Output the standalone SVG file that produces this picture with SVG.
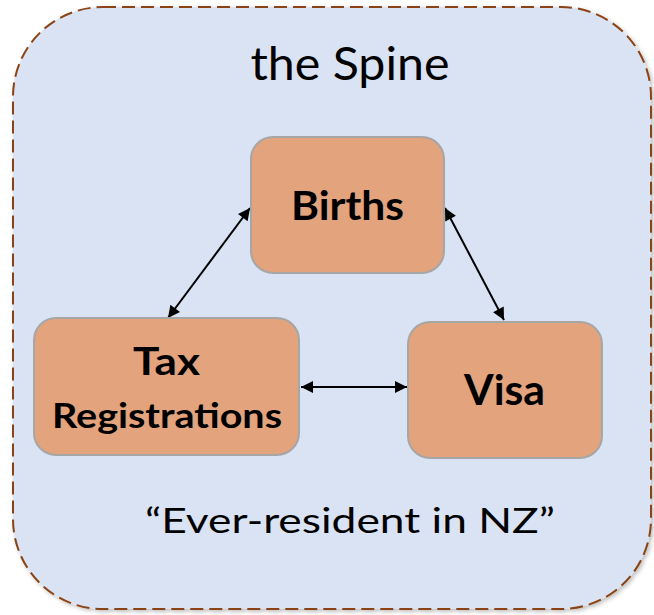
<svg xmlns="http://www.w3.org/2000/svg" width="654" height="615" viewBox="0 0 654 615">
  <style>
    .frame { fill: #DAE3F3; stroke: #8A4313; stroke-width: 2; stroke-dasharray: 13 6; }
    .box { fill: #E2A37D; stroke: #A6A6A6; stroke-width: 2; }
    .label { font-family: Lato, "Open Sans", "Liberation Sans", sans-serif; fill: #000; text-anchor: middle; }
    .bold { font-weight: bold; }
    .link { stroke: #000; stroke-width: 2; fill: none; marker-start: url(#head); marker-end: url(#head); }
  </style>
  <defs>
    <marker id="head" viewBox="0 0 10 10" refX="10" refY="5" markerWidth="6.5" markerHeight="6" orient="auto-start-reverse" markerUnits="strokeWidth">
      <path d="M0,0 L10,5 L0,10 z" fill="#000"/>
    </marker>
    <filter id="shadow" x="-5%" y="-5%" width="110%" height="110%">
      <feDropShadow dx="2" dy="2" stdDeviation="2" flood-color="#000" flood-opacity="0.25"/>
    </filter>
  </defs>

  <!-- Outer container -->
  <g id="spine">
    <rect class="frame" x="13" y="7" width="638" height="602" rx="90" ry="90" filter="url(#shadow)"/>
    <text class="label" x="350" y="80" font-size="46" textLength="199" lengthAdjust="spacingAndGlyphs">the Spine</text>
    <text class="label" x="350" y="533" font-size="35" textLength="410" lengthAdjust="spacingAndGlyphs">“Ever-resident in NZ”</text>
  </g>

  <!-- Connectors -->
  <g id="connectors">
    <line class="link" x1="250" y1="208" x2="168" y2="318"/>
    <line class="link" x1="445" y1="208" x2="504" y2="320"/>
    <line class="link" x1="301" y1="387" x2="407" y2="387"/>
  </g>

  <g id="births">
    <rect class="box" x="251" y="137" width="193" height="136" rx="22" ry="22"/>
    <text class="label bold" x="347.5" y="220" font-size="40" textLength="113" lengthAdjust="spacingAndGlyphs">Births</text>
  </g>

  <g id="tax">
    <rect class="box" x="34" y="318" width="265" height="137" rx="22" ry="22"/>
    <text class="label bold" x="166.5" y="375" font-size="39" textLength="67" lengthAdjust="spacingAndGlyphs">Tax</text>
    <text class="label bold" x="167" y="428" font-size="34" textLength="230" lengthAdjust="spacingAndGlyphs">Registrations</text>
  </g>

  <g id="visa">
    <rect class="box" x="408" y="322" width="194" height="136" rx="22" ry="22"/>
    <text class="label bold" x="504.5" y="405" font-size="42" textLength="81" lengthAdjust="spacingAndGlyphs">Visa</text>
  </g>
</svg>
